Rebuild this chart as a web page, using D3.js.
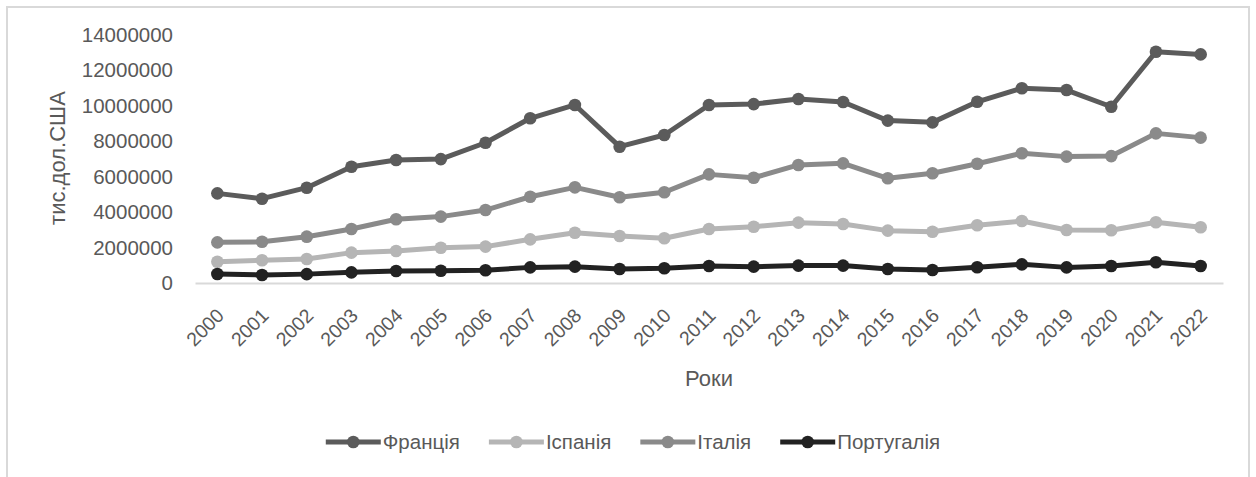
<!DOCTYPE html>
<html><head><meta charset="utf-8">
<script src="https://cdn.jsdelivr.net/npm/d3@7/dist/d3.min.js"></script>
<style>body{margin:0;background:#fff}svg{display:block;font-family:"Liberation Sans",Arial,sans-serif}</style>
</head><body><svg id="c" width="1256" height="477"></svg>
<script>
const years = ["2000","2001","2002","2003","2004","2005","2006","2007","2008","2009","2010","2011","2012","2013","2014","2015","2016","2017","2018","2019","2020","2021","2022"];
const france   = [5050000,4750000,5370000,6550000,6930000,6980000,7900000,9280000,10030000,7680000,8340000,10030000,10080000,10370000,10200000,9150000,9050000,10210000,10970000,10870000,9930000,13030000,12880000];
const spain    = [1200000,1280000,1350000,1710000,1800000,1990000,2050000,2460000,2830000,2650000,2520000,3040000,3170000,3400000,3320000,2950000,2890000,3250000,3490000,2990000,2970000,3420000,3140000];
const italy    = [2290000,2320000,2610000,3040000,3590000,3740000,4110000,4860000,5390000,4830000,5110000,6120000,5930000,6650000,6740000,5900000,6180000,6720000,7310000,7120000,7150000,8430000,8190000];
const portugal = [510000,450000,500000,600000,680000,690000,720000,880000,920000,790000,830000,960000,920000,980000,980000,790000,730000,890000,1050000,880000,960000,1170000,960000];
const seriesNames = ["Франція","Іспанія","Італія","Португалія"];
const yTicks = [0,2000000,4000000,6000000,8000000,10000000,12000000,14000000];
const yTitle = "тис.дол.США";
const xTitle = "Роки";

const series = [
  {name: seriesNames[0], values: france,   color: "#5b5b5b"},
  {name: seriesNames[1], values: spain,    color: "#b5b5b5"},
  {name: seriesNames[2], values: italy,    color: "#8a8a8a"},
  {name: seriesNames[3], values: portugal, color: "#222222"}
];

const svg = d3.select("#c");
const txt = "#595959";
svg.append("rect").attr("x",7).attr("y",7).attr("width",1242).attr("height",500)
  .attr("fill","#fff").attr("stroke","#d9d9d9").attr("stroke-width",2);

const x = d3.scaleBand().domain(years).range([195,1223]);
const y = d3.scaleLinear().domain([0,14000000]).range([283,34.5]);

// y axis labels
const yAxis = d3.axisLeft(y).tickValues(yTicks).tickSize(0).tickPadding(0).tickFormat(d3.format("d"));
const ya = svg.append("g").attr("transform","translate(173,0)").call(yAxis);
ya.select(".domain").remove();
ya.selectAll("text").attr("fill",txt).style("font-size","20.5px").style("font-family","Liberation Sans, Arial, sans-serif");

// x axis
const xAxis = d3.axisBottom(x).tickSize(0).tickPadding(0);
const xa = svg.append("g").attr("transform","translate(0,283)").call(xAxis);
xa.select(".domain").attr("stroke","#d9d9d9").attr("stroke-width",2);
xa.selectAll(".tick text").attr("fill",txt).style("font-size","19.5px").style("font-family","Liberation Sans, Arial, sans-serif")
  .attr("text-anchor","end").attr("dy","0.35em").attr("y",0).attr("x",0)
  .attr("transform","translate(3,29) rotate(-45)");

// titles
svg.append("text").attr("transform","translate(65,158) rotate(-90)").attr("text-anchor","middle")
  .attr("fill",txt).style("font-size","22px").text(yTitle);
svg.append("text").attr("x",709).attr("y",386).attr("text-anchor","middle")
  .attr("fill",txt).style("font-size","22px").text(xTitle);

// lines
const line = d3.line().x((d,i)=>x(years[i])+x.bandwidth()/2).y(d=>y(d));
series.forEach(s=>{
  const g = svg.append("g");
  g.append("path").datum(s.values).attr("d",line).attr("fill","none")
    .attr("stroke",s.color).attr("stroke-width",5).attr("stroke-linejoin","round");
  g.selectAll("circle").data(s.values).enter().append("circle")
    .attr("cx",(d,i)=>x(years[i])+x.bandwidth()/2).attr("cy",d=>y(d)).attr("r",6.3).attr("fill",s.color);
});

// legend
const lg = svg.append("g");
const items = series.map(s=>{
  const g = lg.append("g");
  g.append("line").attr("x1",0).attr("x2",55).attr("y1",0).attr("y2",0).attr("stroke",s.color).attr("stroke-width",5);
  g.append("circle").attr("cx",27.5).attr("cy",0).attr("r",6.3).attr("fill",s.color);
  const t = g.append("text").attr("x",57).attr("y",0).attr("dy","0.35em").attr("fill",txt).style("font-size","20.5px").text(s.name);
  return {g, w: 57 + t.node().getComputedTextLength()};
});
const gap = 29;
const total = d3.sum(items,d=>d.w) + gap*(items.length-1);
let cx = 633 - total/2;
items.forEach(it=>{ it.g.attr("transform",`translate(${cx},442)`); cx += it.w + gap; });
</script></body></html>
